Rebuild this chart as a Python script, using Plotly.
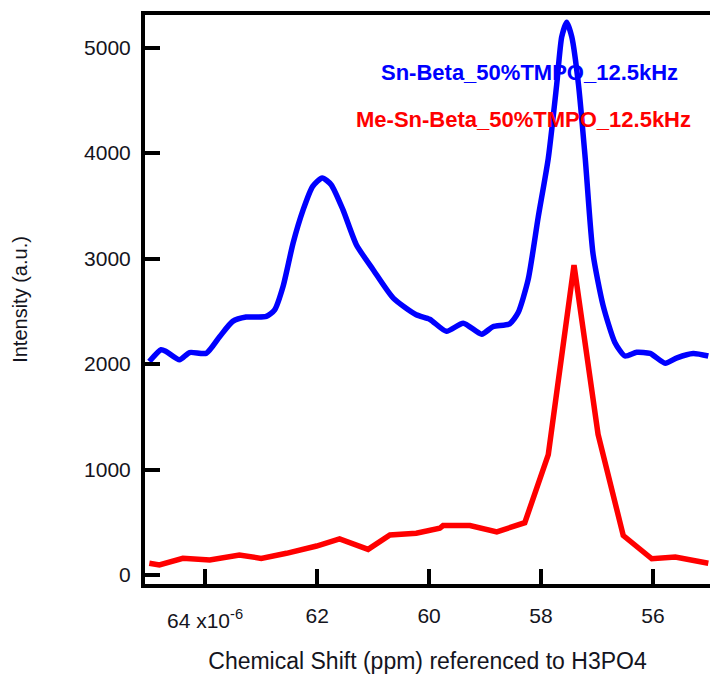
import plotly.graph_objects as go

# Blue spectrum: Sn-Beta_50%TMPO_12.5kHz
blue_x = [65.0, 64.79, 64.70, 64.46, 64.28, 63.98, 63.74, 63.51, 63.27, 62.91, 62.76, 62.61,
          62.43, 62.25, 62.08, 61.91, 61.75, 61.54, 61.30, 61.00, 60.64, 60.23, 59.99, 59.69,
          59.39, 59.06, 58.86, 58.56, 58.41, 58.23, 58.05, 57.87, 57.72, 57.63, 57.54, 57.45,
          57.33, 57.21, 57.07, 56.89, 56.68, 56.50, 56.29, 56.05, 55.78, 55.57, 55.28, 55.01]
blue_y = [2024, 2135, 2119, 2040, 2109, 2103, 2261, 2404, 2445, 2451, 2514, 2735,
          3147, 3463, 3684, 3764, 3700, 3463, 3131, 2894, 2625, 2467, 2425, 2310,
          2387, 2283, 2353, 2381, 2485, 2799, 3392, 3950, 4647, 5100, 5240, 5100,
          4647, 3950, 3043, 2554, 2205, 2076, 2111, 2100, 2007, 2059, 2100, 2076]

# Red spectrum: Me-Sn-Beta_50%TMPO_12.5kHz
red_x = [65.0, 64.82, 64.40, 63.92, 63.39, 63.00, 62.55, 62.01, 61.60, 61.09, 60.70, 60.23,
         59.81, 59.75, 59.27, 58.79, 58.29, 57.87, 57.41, 56.98, 56.53, 56.02, 55.60, 55.01]
red_y = [111, 95, 158, 142, 190, 158, 206, 275, 342, 243, 380, 396,
         443, 469, 469, 409, 496, 1141, 2938, 1333, 374, 154, 171, 111]

x_tickvals = [64, 62, 60, 58, 56]
x_ticktext = [" ", "62", "60", "58", "56"]
first_tick_label = "64 x10<sup>-6</sup>"
y_tickvals = [0, 1000, 2000, 3000, 4000, 5000]

FONT = "Liberation Sans, Arial, sans-serif"
TXT = "#141420"

fig = go.Figure()
fig.add_trace(go.Scatter(x=blue_x, y=blue_y, mode="lines",
                         line=dict(color="#0000FF", width=5.5, shape="spline", smoothing=0.6),
                         showlegend=False))
fig.add_trace(go.Scatter(x=red_x, y=red_y, mode="lines",
                         line=dict(color="#FF0000", width=5.5),
                         showlegend=False))

fig.add_annotation(x=58.20, y=4765, xref="x", yref="y", text="<b>Sn-Beta_50%TMPO_12.5kHz</b>",
                   showarrow=False, font=dict(family=FONT, size=22, color="#0000FF"),
                   xanchor="center", yanchor="middle")
fig.add_annotation(x=58.32, y=4318, xref="x", yref="y", text="<b>Me-Sn-Beta_50%TMPO_12.5kHz</b>",
                   showarrow=False, font=dict(family=FONT, size=22, color="#FF0000"),
                   xanchor="center", yanchor="middle")
# first x tick label (drawn lower, as in the reference)
fig.add_annotation(x=x_tickvals[0], y=0, xref="x", yref="paper", text=first_tick_label,
                   showarrow=False, font=dict(family=FONT, size=21, color=TXT),
                   xanchor="center", yanchor="top", yshift=-20)

fig.update_layout(
    width=710, height=675,
    margin=dict(l=145, r=0, t=15, b=91),
    paper_bgcolor="white", plot_bgcolor="white",
    font=dict(family=FONT, color=TXT),
    xaxis=dict(range=[65.077, 54.98], tickvals=x_tickvals, ticktext=x_ticktext,
               ticks="inside", ticklen=15, tickwidth=4, tickcolor="black",
               showline=True, linewidth=4, linecolor="black", mirror=True,
               showgrid=False, zeroline=False, tickfont=dict(size=21),
               ticklabelstandoff=10,
               title=dict(text="Chemical Shift (ppm) referenced to H3PO4",
                          font=dict(size=23), standoff=28)),
    yaxis=dict(range=[-85, 5308], tickvals=y_tickvals,
               ticks="inside", ticklen=15, tickwidth=4, tickcolor="black",
               showline=True, linewidth=4, linecolor="black", mirror=False,
               showgrid=False, zeroline=False, tickfont=dict(size=21),
               ticklabelstandoff=6,
               title=dict(text="Intensity (a.u.)", font=dict(size=20), standoff=52)),
)

fig.write_html("out.html")
